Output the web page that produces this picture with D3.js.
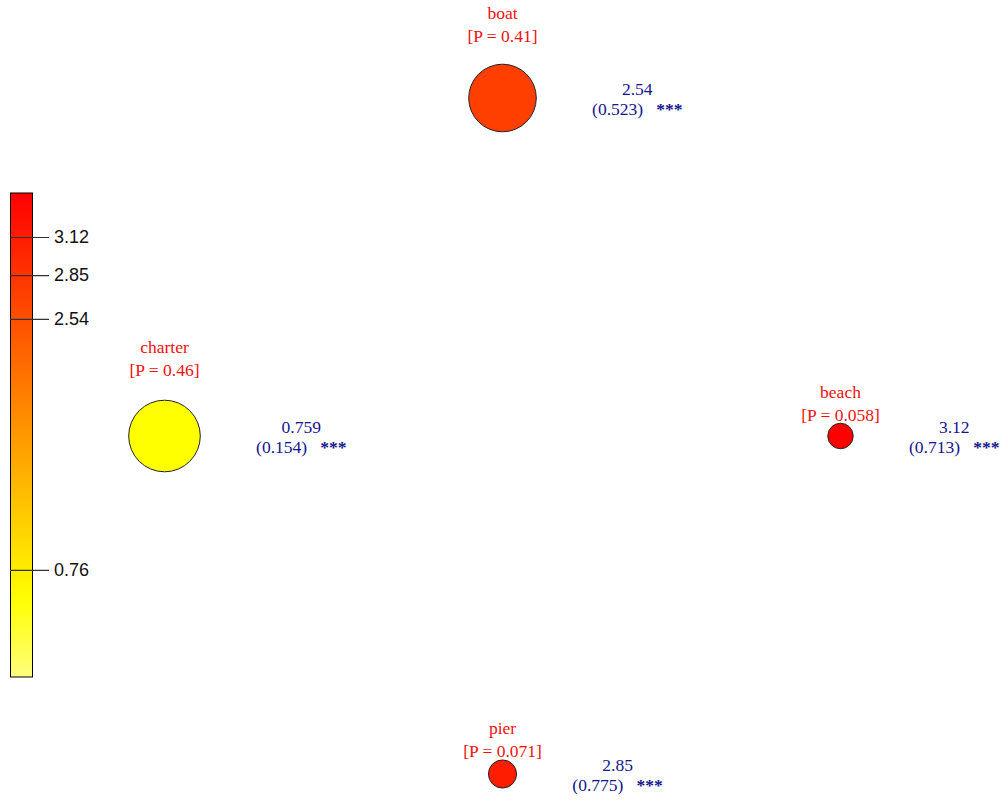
<!DOCTYPE html>
<html>
<head>
<meta charset="utf-8">
<script src="https://cdn.jsdelivr.net/npm/d3@7"></script>
<style>
  html, body { margin: 0; padding: 0; background: #fff; }
  svg { display: block; }
</style>
</head>
<body>
<svg id="chart" width="1006" height="800"></svg>
<script>
// ---- data ----
const nodeNames = ["boat", "beach", "pier", "charter"];
const estimates = [2.54, 3.12, 2.85, 0.759];
const stdErrors = [0.523, 0.713, 0.775, 0.154];
const signifStars = ["***", "***", "***", "***"];
const probabilities = [0.41, 0.058, 0.071, 0.46];
const colorbarTicks = [0.76, 2.54, 2.85, 3.12];
const colorbarTickLabels = ["0.76", "2.54", "2.85", "3.12"];

const svg = d3.select("#chart");

// ---- scales ----
const barMax = d3.max(estimates) * 1.1;
const barY = d3.scaleLinear().domain([0, barMax]).range([677, 193]);
const barColor = d3.scaleLinear()
  .domain([0, 0.547, barMax])
  .range(["#ffff80", "#ffff00", "#ff0000"]);
const nodeColor = d3.scaleLinear()
  .domain(d3.extent(estimates))
  .range(["#ffff00", "#ff0000"]);
const sizeScale = d3.scaleSqrt().domain([0, d3.max(probabilities)]).range([0, 35.8]);
const angle = d3.scaleLinear().domain([0, nodeNames.length]).range([-Math.PI / 2, 1.5 * Math.PI]);
const cx0 = 502.5, cy0 = 436, R = 338;

// ---- colour bar ----
const defs = svg.append("defs");
const grad = defs.append("linearGradient").attr("id", "heat")
  .attr("x1", 0).attr("x2", 0).attr("y1", 0).attr("y2", 1);
d3.range(0, 41).forEach(i => {
  const v = barMax * (1 - i / 40);
  grad.append("stop").attr("offset", (i / 40 * 100) + "%").attr("stop-color", barColor(v));
});
svg.append("rect")
  .attr("x", 10.5).attr("y", barY(barMax)).attr("width", 22)
  .attr("height", barY(0) - barY(barMax))
  .attr("fill", "url(#heat)").attr("stroke", "#000").attr("stroke-width", 1);

const axis = d3.axisRight(barY)
  .tickValues(colorbarTicks)
  .tickFormat((d, i) => colorbarTickLabels[i])
  .tickSizeInner(39).tickSizeOuter(0).tickPadding(5);
const ax = svg.append("g").attr("transform", "translate(10,0)").call(axis);
ax.select(".domain").remove();
ax.selectAll(".tick line").attr("stroke", "#333").attr("stroke-width", 1.2);
ax.selectAll(".tick text")
  .attr("fill", "#111")
  .style("font-family", "'Liberation Sans', Arial, sans-serif")
  .style("font-size", "18px");

// ---- nodes ----
const data = nodeNames.map((n, i) => {
  const a = angle(i);
  return {
    name: n, est: estimates[i], se: stdErrors[i], stars: signifStars[i], p: probabilities[i],
    x: cx0 + R * Math.cos(a), y: cy0 + R * Math.sin(a), r: sizeScale(probabilities[i])
  };
});

const g = svg.append("g");
g.selectAll("circle").data(data).join("circle")
  .attr("cx", d => d.x).attr("cy", d => d.y).attr("r", d => d.r)
  .attr("fill", d => nodeColor(d.est))
  .attr("stroke", "#222").attr("stroke-width", 1);

const serif = "'Liberation Serif', 'Times New Roman', serif";

// red labels above nodes
data.forEach(d => {
  const base2 = d.y - d.r - (0.95 * d.r - 10);
  g.append("text")
    .attr("x", d.x).attr("y", base2 - 23)
    .attr("text-anchor", "middle").attr("fill", "#f01010")
    .style("font-family", serif).style("font-size", "17.5px")
    .text(d.name);
  g.append("text")
    .attr("x", d.x).attr("y", base2)
    .attr("text-anchor", "middle").attr("fill", "#f01010")
    .style("font-family", serif).style("font-size", "17.5px")
    .text("[P = " + d.p + "]");
});

// blue estimate labels to the right
data.forEach(d => {
  const tx = d.x + d.r + 101;
  g.append("text")
    .attr("x", tx).attr("y", d.y - 3.5)
    .attr("text-anchor", "middle").attr("fill", "#14148c")
    .style("font-family", serif).style("font-size", "17.5px")
    .text(d.est);
  const t2 = g.append("text")
    .attr("x", tx).attr("y", d.y + 17)
    .attr("text-anchor", "middle").attr("fill", "#14148c")
    .style("font-family", serif).style("font-size", "17.5px")
    .style("white-space", "pre");
  t2.append("tspan").text("(" + d.se + ")\u00a0\u00a0\u00a0");
  t2.append("tspan").style("font-weight", "bold").text(d.stars);
});
</script>
</body>
</html>
